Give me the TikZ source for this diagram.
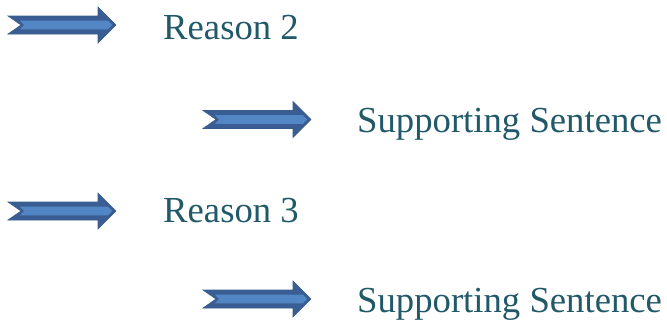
\documentclass[tikz,border=0pt]{standalone}
\usepackage{fontspec}
\setmainfont{Liberation Serif}
\usepackage{tikz}
\definecolor{textteal}{HTML}{215968}
\definecolor{arrowdark}{HTML}{3A5E93}
\definecolor{arrowline}{HTML}{385D8A}
\definecolor{arrowlight}{HTML}{5386C4}

\begin{document}
\begin{tikzpicture}
[x=1pt,y=1pt,every node/.style={anchor=base west,inner sep=0pt,text=textteal,font=\fontsize{36.7}{40}\selectfont},
outer/.style={fill=arrowdark,draw=arrowline,line width=0.6pt,line join=miter},
inner/.style={fill=arrowlight}]
\useasboundingbox (0,0) rectangle (667,325);
\foreach \ax/\ay in {8/300,203/205.5,8/114,203/26}{
\draw[outer] (\ax,\ay+9) -- ++(90,0) -- ++(0,9) -- ++(18,-18) -- ++(-18,-18) -- ++(0,9) -- ++(-90,0) -- ++(13,9) -- cycle;
\fill[inner] (\ax+12,\ay+4.3) -- ++(88,0) -- ++(4,-4.3) -- ++(-4,-4.3) -- ++(-88,0) -- ++(4,4.3) -- cycle;
}
\node (r2) at (163,286) {Reason 2};
\node (s2) at (357,193) {Supporting Sentence};
\node (r3) at (163,103) {Reason 3};
\node (s3) at (357,13) {Supporting Sentence};
\end{tikzpicture}
\end{document}
